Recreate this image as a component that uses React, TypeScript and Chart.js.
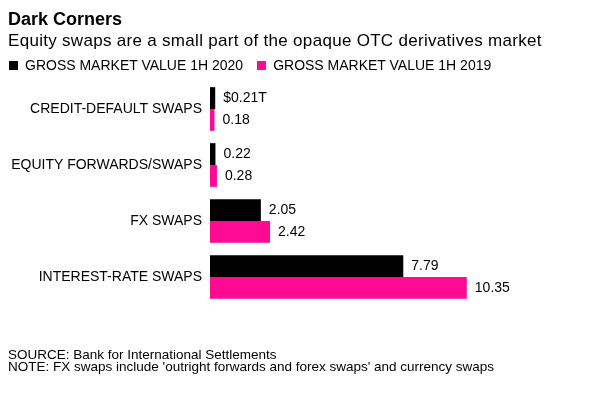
import React, { useEffect, useRef } from "react";
import { Chart, registerables } from "chart.js";

Chart.register(...registerables);

const categories = [
  "CREDIT-DEFAULT SWAPS",
  "EQUITY FORWARDS/SWAPS",
  "FX SWAPS",
  "INTEREST-RATE SWAPS",
];
const values2020 = [0.21, 0.22, 2.05, 7.79];
const values2019 = [0.18, 0.28, 2.42, 10.35];
const seriesNames = ["GROSS MARKET VALUE 1H 2020", "GROSS MARKET VALUE 1H 2019"];

const BLACK = "#000000";
const PINK = "#ff0a93";
const FONT = "'Liberation Sans', Arial, Helvetica, sans-serif";

function fmt(v: number, ds: number, i: number) {
  const s = v.toFixed(2);
  return ds === 0 && i === 0 ? `$${s}T` : s;
}

const valueLabelPlugin = {
  id: "valueLabels",
  afterDatasetsDraw(chart: any) {
    const ctx = chart.ctx;
    ctx.save();
    ctx.font = `14px ${FONT}`;
    ctx.fillStyle = "#000";
    ctx.textAlign = "left";
    ctx.textBaseline = "middle";
    chart.data.datasets.forEach((ds: any, di: number) => {
      const meta = chart.getDatasetMeta(di);
      meta.data.forEach((bar: any, i: number) => {
        ctx.fillText(fmt(ds.data[i], di, i), bar.x + 8, bar.y + 0.5);
      });
    });
    ctx.restore();
  },
};

export default function App() {
  const ref = useRef<HTMLCanvasElement>(null);

  useEffect(() => {
    if (!ref.current) return;
    const chart = new Chart(ref.current, {
      type: "bar",
      data: {
        labels: categories,
        datasets: [
          { label: seriesNames[0], data: values2020, backgroundColor: BLACK, borderWidth: 0 },
          { label: seriesNames[1], data: values2019, backgroundColor: PINK, borderWidth: 0 },
        ],
      },
      options: {
        indexAxis: "y",
        animation: false,
        responsive: false,
        maintainAspectRatio: false,
        events: [],
        layout: { padding: { left: 8, right: 5, top: 81, bottom: 88 } },
        datasets: { bar: { categoryPercentage: 0.78, barPercentage: 1 } },
        scales: {
          x: { display: false, min: 0, max: 16 },
          y: {
            grid: { display: false, drawTicks: false },
            border: { display: false },
            ticks: {
              padding: 8,
              color: "#000",
              font: { family: FONT, size: 14 },
            },
            afterFit: (s: any) => {
              s.width = 202;
            },
          },
        },
        plugins: {
          legend: { display: false },
          tooltip: { enabled: false },
          title: { display: false },
        },
      },
      plugins: [valueLabelPlugin],
    });
    return () => chart.destroy();
  }, []);

  const abs = (top: number, size: number, extra: any = {}) => ({
    position: "absolute" as const,
    left: 8,
    top,
    fontSize: size,
    lineHeight: `${size}px`,
    fontFamily: FONT,
    color: "#000",
    whiteSpace: "nowrap" as const,
    ...extra,
  });

  return (
    <div
      style={{
        position: "fixed",
        left: 0,
        top: 0,
        width: 612,
        height: 393,
        background: "#fff",
        overflow: "hidden",
      }}
    >
      <canvas
        ref={ref}
        width={612}
        height={393}
        style={{ position: "absolute", left: 0, top: 0, width: 612, height: 393 }}
      />
      <div style={abs(10, 18, { fontWeight: "bold" })}>Dark Corners</div>
      <div style={abs(32, 17, { letterSpacing: 0.3 })}>
        Equity swaps are a small part of the opaque OTC derivatives market
      </div>
      <div style={abs(58, 14, { left: 9, display: "flex", alignItems: "center" })}>
        <span style={{ display: "inline-block", width: 9, height: 9, background: BLACK, marginRight: 7 }} />
        <span>{seriesNames[0]}</span>
        <span style={{ display: "inline-block", width: 9, height: 9, background: PINK, marginLeft: 14, marginRight: 7 }} />
        <span>{seriesNames[1]}</span>
      </div>
      <div style={abs(348, 13.5)}>SOURCE: Bank for International Settlements</div>
      <div style={abs(360, 13.5)}>
        NOTE: FX swaps include 'outright forwards and forex swaps' and currency swaps
      </div>
    </div>
  );
}
